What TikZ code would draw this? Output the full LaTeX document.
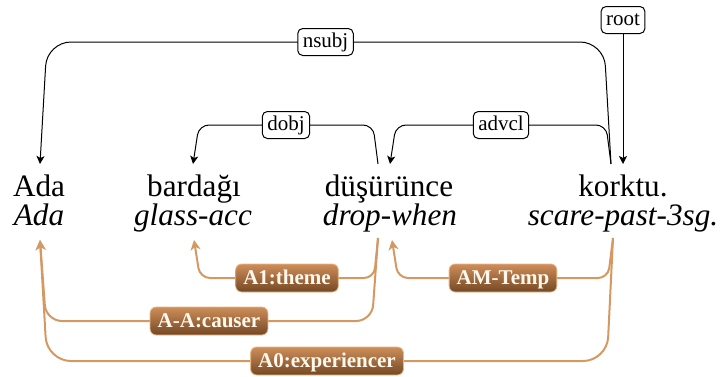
\documentclass[tikz,border=0pt]{standalone}
\usepackage{fontspec}
\setmainfont{Liberation Serif}
\usepackage{tikz}
\usetikzlibrary{arrows.meta,positioning}
\definecolor{srledge}{RGB}{212,152,98}
\definecolor{srltop}{RGB}{206,142,90}
\definecolor{srlbot}{RGB}{116,72,36}
\definecolor{srlrim}{RGB}{232,184,136}
\definecolor{srltext}{RGB}{255,248,236}

\begin{document}
\begin{tikzpicture}[x=0.5pt,y=-0.5pt,
  word/.style={font=\fontsize{15.6}{18}\selectfont,anchor=base,inner sep=0pt},
  gloss/.style={word,font=\fontsize{15.6}{18}\selectfont\itshape},
  dep/.style={line width=0.5pt,-{Stealth[length=4pt,width=4pt,inset=1pt]},rounded corners=#1},
  dep/.default=12pt,
  srl/.style={draw=srledge,line width=1pt,-{Stealth[length=5pt,width=5pt,inset=1.5pt]},rounded corners=#1},
  srl/.default=12pt,
  deplbl/.style={draw,fill=white,rounded corners=2.5pt,line width=0.5pt,font=\fontsize{10.5}{12}\selectfont,
    inner xsep=2.5pt,inner ysep=0pt,minimum height=13.5pt,text height=7.5pt,text depth=2.2pt},
  srllbl/.style={draw=srlrim,line width=0.4pt,top color=srltop,bottom color=srlbot,rounded corners=3pt,
    text=srltext,font=\fontsize{10.5}{12}\selectfont\bfseries,inner xsep=3.8pt,inner ysep=0pt,
    minimum height=14pt,text height=7.5pt,text depth=1.5pt}]
  \useasboundingbox (0,0) rectangle (722,376);

  \node[word] (ada) at (39,196) {Ada};
  \node[word] (bardagi) at (194,196) {bardağı};
  \node[word] (dusurunce) at (389,196) {düşürünce};
  \node[word] (korktu) at (623,196) {korktu.};
  \node[gloss] (g-ada) at (39,225) {Ada};
  \node[gloss] (g-bardagi) at (193,225) {glass-acc};
  \node[gloss] (g-dusurunce) at (390,225) {drop-when};
  \node[gloss] (g-korktu) at (623,225) {scare-past-3sg.};

  \coordinate (ada-in) at (40,164);
  \coordinate (bardagi-in) at (193,164);
  \coordinate (dusurunce-out) at (378,164);
  \coordinate (dusurunce-in) at (390,164);
  \coordinate (korktu-out) at (611,164);
  \coordinate (korktu-in) at (623,164);
  \coordinate (g-ada-in) at (40,240);
  \coordinate (g-bardagi-in) at (194,240);
  \coordinate (g-dusurunce-out) at (378,238);
  \coordinate (g-dusurunce-in) at (392,240);
  \coordinate (g-korktu-out) at (613,238);

  \node[deplbl] (root) at (623,20) {root};
  \draw[dep] (root) -- (korktu-in);
  \draw[dep] (korktu-out) -- ++(-7,-122) -- node[deplbl] (nsubj) {nsubj} ++(-557,0) -- (ada-in);
  \draw[dep=5pt] (dusurunce-out) -- ++(-5,-39) -- node[deplbl] (dobj) {dobj} ++(-174,0) -- (bardagi-in);
  \draw[dep=5pt] (korktu-out) -- ++(-5,-39) -- node[deplbl] (advcl) {advcl} ++(-210,0) -- (dusurunce-in);

  \draw[srl=5pt] (g-dusurunce-out) -- ++(-4,40) -- node[srllbl] (a1) {A1:theme} ++(-174,0) -- (g-bardagi-in);
  \draw[srl=5pt] (g-korktu-out) -- ++(-5,40) -- node[srllbl] (amtemp) {AM-Temp} ++(-210,0) -- (g-dusurunce-in);
  \draw[srl=8pt] (g-dusurunce-out) -- ++(-6,83) -- node[srllbl] (aa) {A-A:causer} ++(-326,0) -- (g-ada-in);
  \draw[srl=12pt] (g-korktu-out) -- ++(-6,123) -- node[srllbl] (a0) {A0:experiencer} ++(-560,0) -- (g-ada-in);
\end{tikzpicture}
\end{document}
